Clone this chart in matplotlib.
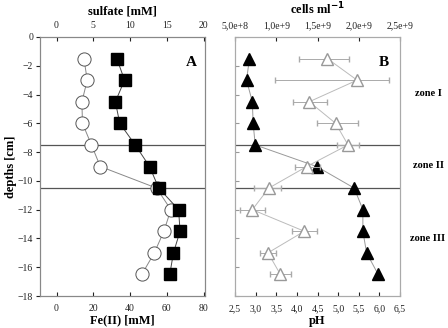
import numpy as np
import matplotlib
matplotlib.use("Agg")
import matplotlib.pyplot as plt

plt.rcParams['font.family'] = ['Liberation Serif', 'DejaVu Serif']
plt.rcParams['font.size'] = 7

# depth of each sample [cm]
depth = [-1.5, -3, -4.5, -6, -7.5, -9, -10.5, -12, -13.5, -15, -16.5]

# panel A
fe2 = [14.9, 16.7, 13.8, 14.1, 19.0, 23.8, 54.4, 62.2, 58.4, 53.2, 46.4]
sulfate = [8.2, 9.25, 8.0, 8.6, 10.7, 12.65, 13.9, 16.6, 16.8, 15.9, 15.4]

# panel B
ph = [2.85, 2.78, 2.92, 2.94, 2.99, 4.48, 5.39, 5.60, 5.60, 5.69, 5.97]
cells = [1.62e9, 1.98e9, 1.40e9, 1.72e9, 1.87e9, 1.37e9, 0.91e9, 0.71e9, 1.34e9, 0.90e9, 1.05e9]
cells_err_lo = [0.34e9, 1.00e9, 0.20e9, 0.23e9, 0.13e9, 0.14e9, 0.18e9, 0.155e9, 0.15e9, 0.10e9, 0.13e9]
cells_err_hi = [0.26e9, 0.39e9, 0.21e9, 0.27e9, 0.13e9, 0.16e9, 0.15e9, 0.155e9, 0.15e9, 0.10e9, 0.13e9]

zone_bounds = [-7.5, -10.5]
zone_names = ['zone I', 'zone II', 'zone III']
zone_y = [-3.9, -8.9, -14.0]

fig = plt.figure(figsize=(4.48, 3.28), dpi=100)
axA = fig.add_axes([40/448, 1-296/328, 164.5/448, 259/328])
axB = fig.add_axes([235/448, 1-296/328, 165/448, 259/328])

# ---- panel A ----
axA.plot(fe2, depth, '-o', color='#888888', lw=0.7, mfc='white', mec='#555555',
         mew=0.7, ms=9.5, zorder=3)
axA.set_xlim(-9, 80.5)
axA.set_ylim(-18, 0)
axA.set_xticks([0, 20, 40, 60, 80])
axA.set_yticks(np.arange(-18, 1, 2))
axA.set_xlabel('Fe(II) [mM]', fontsize=9, fontweight='bold', labelpad=1)
axA.set_ylabel('depths [cm]', fontsize=9, fontweight='bold')
axA.yaxis.set_label_coords(-0.14, 0.5)
axA.tick_params(axis='x', direction='in', length=3, pad=6, colors='#222222')
axA.tick_params(axis='y', direction='out', length=3, pad=2, colors='#222222')

axA2 = axA.twiny()
axA2.plot(sulfate, depth, '-s', color='#444444', lw=0.7, mfc='black', mec='black',
          ms=8, zorder=3)
axA2.set_xlim(-2.25, 20.125)
axA2.set_xticks([0, 5, 10, 15, 20])
axA2.set_xlabel('sulfate [mM]', fontsize=9, fontweight='bold', labelpad=5)
axA2.tick_params(axis='x', direction='in', length=3, pad=5, colors='#222222')
axA.text(0.92, 0.9, 'A', transform=axA.transAxes, fontsize=11,
         fontweight='bold', ha='center', va='center')

# ---- panel B ----
axB.plot(ph, depth, '-^', color='#999999', lw=0.7, mfc='black', mec='black',
         ms=9, zorder=4)
axB.set_xlim(2.5, 6.5)
axB.set_ylim(-18, 0)
axB.set_xticks(np.arange(2.5, 6.6, 0.5))
axB.set_xticklabels([f'{v:.1f}'.replace('.', ',') for v in np.arange(2.5, 6.6, 0.5)])
axB.set_yticks(np.arange(-18, 1, 2))
axB.set_yticklabels([])
axB.set_xlabel('pH', fontsize=9, fontweight='bold', labelpad=1)
axB.tick_params(axis='x', direction='in', length=3, pad=6, colors='#222222')
axB.tick_params(axis='y', direction='in', length=3, color='#999999')

axB2 = axB.twiny()
axB2.errorbar(cells, depth, xerr=[cells_err_lo, cells_err_hi], fmt='-^',
              color='#bbbbbb', lw=0.7, mfc='white', mec='#999999', ms=9,
              elinewidth=0.7, capsize=2, ecolor='#aaaaaa', zorder=3)
axB2.set_xlim(5e8, 2.5e9)
axB2.set_xticks([5e8, 1e9, 1.5e9, 2e9, 2.5e9])
axB2.set_xticklabels(['5,0e+8', '1,0e+9', '1,5e+9', '2,0e+9', '2,5e+9'])
axB2.set_xlabel('cells ml$^{\\mathbf{-1}}$', fontsize=9, fontweight='bold', labelpad=5)
axB2.tick_params(axis='x', direction='in', length=3, pad=5, colors='#222222')
axB.text(0.9, 0.9, 'B', transform=axB.transAxes, fontsize=11,
         fontweight='bold', ha='center', va='center')

for ax in (axA, axB):
    for b in zone_bounds:
        ax.axhline(b, color='#555555', lw=0.9, zorder=2)

for ax in (axA, axA2):
    for s in ax.spines.values():
        s.set_color('#888888')
for ax in (axB, axB2):
    for s in ax.spines.values():
        s.set_color('#aaaaaa')

for name, y in zip(zone_names, zone_y):
    axB.text(1.17, (y + 18) / 18, name, transform=axB.transAxes, fontsize=7.5,
             fontweight='bold', ha='center', va='center')

fig.savefig('out.png', dpi=100)
